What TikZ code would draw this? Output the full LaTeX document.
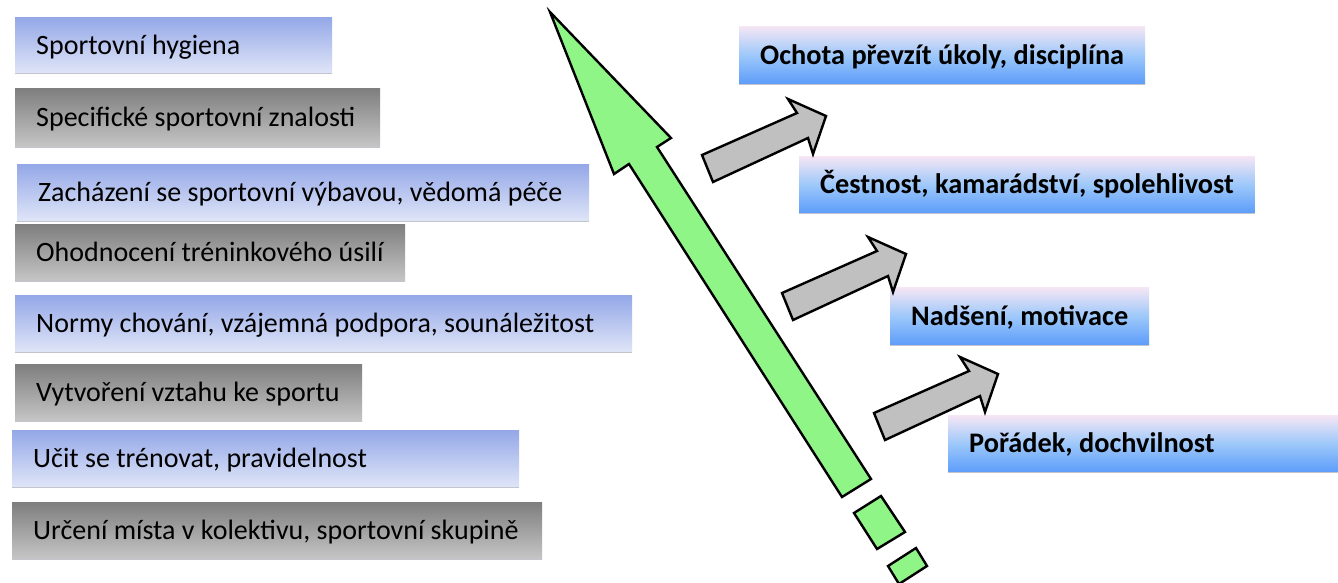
\documentclass[tikz,border=0pt]{standalone}
\usepackage{fontspec}
\setmainfont{Carlito}
\definecolor{lbtop}{HTML}{94A8E8}
\definecolor{lbbot}{HTML}{E0E5F7}
\definecolor{gtop}{HTML}{7E7E7E}
\definecolor{gbot}{HTML}{C6C6C6}
\definecolor{rtop}{HTML}{F6E6F4}
\definecolor{rmid}{HTML}{9DC8FA}
\definecolor{rbot}{HTML}{5C9CFA}
\definecolor{edgeline}{HTML}{C4C4CC}
\definecolor{arrgreen}{HTML}{8FF587}
\definecolor{arrgray}{HTML}{C0C0C0}
\newcommand{\boxtext}[2]{\makebox[#1pt][l]{#2}}
\begin{document}
\begin{tikzpicture}[x=1pt,y=-1pt,
  lbox/.style={anchor=north west, inner xsep=21pt, inner ysep=0pt,
    text height=18pt, text depth=0pt, font=\fontsize{28}{33}\selectfont},
  bluebox/.style={lbox, top color=lbtop, bottom color=lbbot},
  graybox/.style={lbox, top color=gtop, bottom color=gbot},
  rbox/.style={lbox, top color=rtop, bottom color=rbot, middle color=rmid,
    font=\fontsize{28.3}{33}\selectfont\bfseries},
  bline/.style={draw=edgeline, line width=1.4pt},
  bigarrow/.style={draw=black, fill=arrgreen, line width=2.4pt, line join=miter},
  smallarrow/.style={draw=black, fill=arrgray, line width=2.4pt, line join=miter}]
\useasboundingbox (0,0) rectangle (1338,582);
\fill[white] (0,0) rectangle (1338,582);

% left boxes
\node[bluebox, minimum height=56pt] (l1) at (15,17) {\boxtext{275}{Sportovní hygiena}};
\node[graybox, minimum height=59pt] (l2) at (15,88) {\boxtext{323}{Specifické sportovní znalosti}};
\node[bluebox, minimum height=57pt] (l3) at (17,164) {\boxtext{530}{Zacházení se sportovní výbavou, vědomá péče}};
\node[graybox, minimum height=57pt] (l4) at (15,224) {\boxtext{348}{Ohodnocení tréninkového úsilí}};
\node[bluebox, minimum height=57pt] (l5) at (15,295) {\boxtext{575}{Normy chování, vzájemná podpora, sounáležitost}};
\node[graybox, minimum height=57pt] (l6) at (15,364) {\boxtext{305}{Vytvoření vztahu ke sportu}};
\node[bluebox, minimum height=57pt] (l7) at (12,430) {\boxtext{465}{Učit se trénovat, pravidelnost}};
\node[graybox, minimum height=57pt] (l8) at (12,502) {\boxtext{488}{Určení místa v kolektivu, sportovní skupině}};
\foreach \n in {l1,l2,l3,l4,l5,l6,l7,l8}
  \draw[bline] (\n.south west) -- (\n.south east);

% right boxes
\node[rbox, minimum height=58pt] (r1) at (739,26) {Ochota převzít úkoly, disciplína};
\node[rbox, minimum height=57pt] (r2) at (799,156) {Čestnost, kamarádství, spolehlivost};
\node[rbox, minimum height=58pt] (r3) at (890,287) {Nadšení, motivace};
\node[rbox, minimum height=57pt] (r4) at (948,415) {\boxtext{360}{Pořádek, dochvilnost}};
\foreach \n in {r1,r2,r3,r4}
  \draw[bline] (\n.south west) -- (\n.south east);

% big green arrow
\draw[bigarrow] (550,12) -- (671,138) -- (657,147) -- (871,479) -- (842,497)
  -- (629,164) -- (614,174) -- cycle;
\draw[bigarrow] (854,513) -- (881,496) -- (905,532) -- (877,549) -- cycle;
\draw[bigarrow] (888,566) -- (916,548) -- (927,566) -- (899,584) -- cycle;

% gray block arrows
\foreach \dx/\dy in {0/0, 80/138, 172/258}
  \draw[smallarrow, shift={(\dx,\dy)}] (702,155) -- (797,113) -- (788,99) -- (826,116)
    -- (813,154) -- (808,138) -- (713,182) -- cycle;
\end{tikzpicture}
\end{document}
